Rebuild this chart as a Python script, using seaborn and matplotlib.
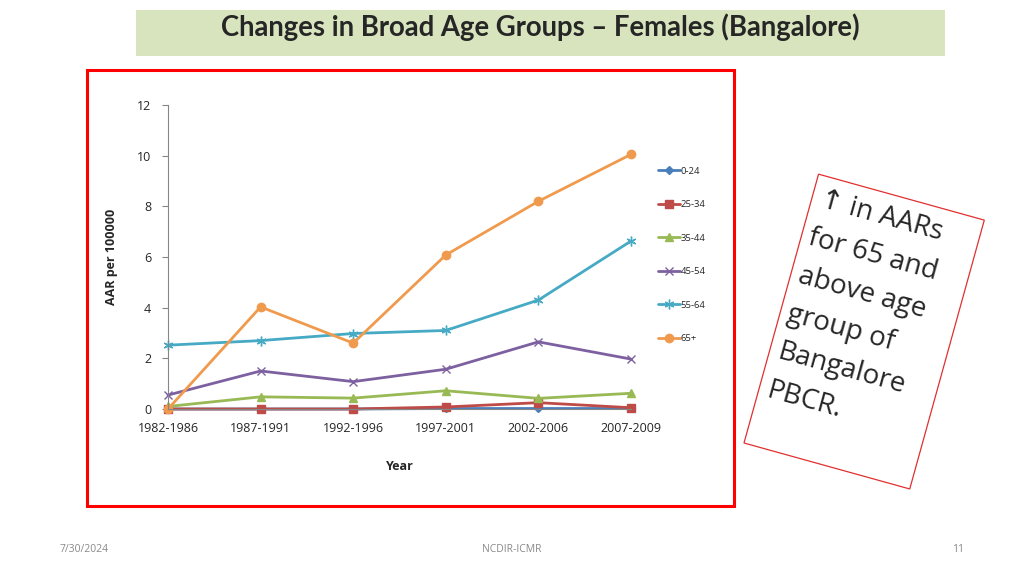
import numpy as np
import pandas as pd
import matplotlib
matplotlib.use("Agg")
import matplotlib.pyplot as plt
import matplotlib.patches as mpatches
from matplotlib.transforms import Affine2D, IdentityTransform
import seaborn as sns

# values
periods = ['1982-1986', '1987-1991', '1992-1996', '1997-2001', '2002-2006', '2007-2009']
age_groups = ['0-24', '25-34', '35-44', '45-54', '55-64', '65+']
aar_0_24 = [0.0, 0.0, 0.0, 0.02, 0.02, 0.02]
aar_25_34 = [0.0, 0.0, 0.0, 0.08, 0.25, 0.05]
aar_35_44 = [0.1, 0.48, 0.43, 0.72, 0.42, 0.62]
aar_45_54 = [0.55, 1.5, 1.08, 1.57, 2.65, 1.97]
aar_55_64 = [2.52, 2.7, 2.98, 3.1, 4.3, 6.63]
aar_65plus = [0.0, 4.03, 2.6, 6.08, 8.2, 10.05]

series = [aar_0_24, aar_25_34, aar_35_44, aar_45_54, aar_55_64, aar_65plus]
colors = ['#4A7EBB', '#BE4B48', '#98B954', '#7D60A0', '#46AAC5', '#F09A4D']
markers = ['D', 's', '^', 'x', (6, 2, 0), 'o']
msizes = [4, 6, 6, 6, 7, 6]

df = pd.DataFrame({
    'period_idx': np.tile(np.arange(len(periods)), len(age_groups)),
    'age': np.repeat(age_groups, len(periods)),
    'aar': np.concatenate(series),
})

sns.set_style('white')
plt.rcParams['font.family'] = ['Open Sans', 'DejaVu Sans']

W, H = 1024, 576
fig = plt.figure(figsize=(W / 100, H / 100), dpi=100)

# title banner
fig.patches.append(mpatches.Rectangle((136 / W, 1 - 56 / H), (945 - 136) / W, 46 / H,
                                      transform=fig.transFigure, facecolor='#D7E4BD',
                                      edgecolor='none', zorder=0))
fig.text(540 / W, 1 - 27 / H, 'Changes in Broad Age Groups \u2013 Females (Bangalore)',
         ha='center', va='center', fontsize=19.8, fontweight='bold',
         family=['Lato', 'DejaVu Sans'])

# red frame around chart
fig.patches.append(mpatches.Rectangle((87 / W, 1 - 506 / H), (734 - 87) / W, (506 - 70) / H,
                                      transform=fig.transFigure, facecolor='none',
                                      edgecolor='#FF0000', linewidth=2.2, zorder=1))

ax = fig.add_axes([168 / W, 1 - 409 / H, (631 - 168) / W, (409 - 105) / H])

for grp, col, mk, ms in zip(age_groups, colors, markers, msizes):
    sub = df[df['age'] == grp]
    sns.lineplot(data=sub, x='period_idx', y='aar', ax=ax, color=col, linewidth=2,
                 marker=mk, markersize=ms, markeredgecolor=col, markerfacecolor=col,
                 markeredgewidth=1, label=grp, clip_on=False)

ax.set_xlim(0, len(periods) - 1)
ax.set_ylim(0, 12)
ax.set_yticks(np.arange(0, 13, 2))
ax.set_xticks(np.arange(len(periods)))
ax.set_xticklabels(periods)
ax.tick_params(axis='x', length=0, pad=9, labelsize=9)
ax.tick_params(axis='y', length=4, width=0.8, color='#868686', direction='out',
               left=True, pad=8, labelsize=9)
for side in ['top', 'right']:
    ax.spines[side].set_visible(False)
for side in ['left', 'bottom']:
    ax.spines[side].set_color('#868686')
    ax.spines[side].set_linewidth(0.8)
ax.set_xlabel('Year', fontsize=9, fontweight='bold', labelpad=18)
ax.set_ylabel('AAR per 100000', fontsize=9, fontweight='bold', labelpad=14)

ax.legend(loc='upper left', bbox_to_anchor=(1.05, 0.81), frameon=False, fontsize=6.8,
          labelspacing=2.6, handlelength=2.3, handletextpad=0.1, borderaxespad=0)

# rotated note box (pixel coordinates)
rot = Affine2D().rotate_deg_around(744, 133, -15.5) + IdentityTransform()
box = mpatches.Rectangle((744, 133), 172, 279, transform=rot, facecolor='white',
                         edgecolor='#E03030', linewidth=0.9)
fig.patches.append(box)
fig.text(752, 402, '\u2191 in AARs\nfor 65 and\nabove age\ngroup of\nBangalore\nPBCR.',
         transform=rot, rotation=-15.5, rotation_mode='anchor', ha='left', va='top',
         fontsize=20, linespacing=1.55, family=['Open Sans', 'DejaVu Sans'])

# footer
foot = dict(fontsize=7.5, color='#898989', va='center')
fig.text(60 / W, 1 - 550 / H, '7/30/2024', ha='left', **foot)
fig.text(512 / W, 1 - 550 / H, 'NCDIR-ICMR', ha='center', **foot)
fig.text(964 / W, 1 - 550 / H, '11', ha='right', **foot)

fig.savefig('out.png', dpi=100)
